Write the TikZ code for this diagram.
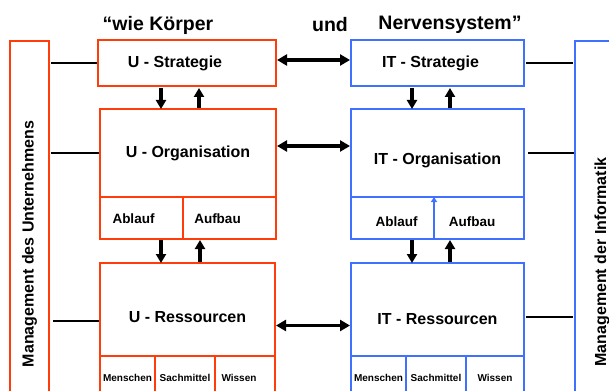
\documentclass[tikz,border=0pt]{standalone}
\usepackage{fontspec}
\setmainfont{Liberation Sans}
\usetikzlibrary{arrows.meta}
\definecolor{uorange}{RGB}{255,61,10}
\definecolor{itblue}{RGB}{64,112,255}
\begin{document}
\begin{tikzpicture}[x=1pt,y=-1pt,font=\bfseries,
  box/.style={draw,line width=2pt,inner sep=0pt,outer sep=0pt},
  ubox/.style={box,draw=uorange},
  itbox/.style={box,draw=itblue},
  big/.style={font=\fontsize{16}{18}\selectfont\bfseries},
  mid/.style={font=\fontsize{13.5}{15}\selectfont\bfseries},
  small/.style={font=\fontsize{10}{12}\selectfont\bfseries},
  ttl/.style={font=\fontsize{19.5}{22}\selectfont\bfseries},
  mgm/.style={font=\fontsize{16}{18}\selectfont\bfseries},
  varrow/.style={line width=3.5pt,-{Triangle[length=9pt,width=10pt]}},
  harrow/.style={line width=3.5pt,{Triangle[length=10pt,width=11pt]}-{Triangle[length=10pt,width=11pt]}},
  conn/.style={line width=1.5pt}]
\useasboundingbox (0,0) rectangle (609,390);
\clip (0,0) rectangle (609,390);
% titles
\node[ttl] (t1) at (158,25) {“wie Körper};
\node[ttl] (t2) at (330,25) {und};
\node[ttl] (t3) at (450,25) {Nervensystem”};
% management boxes
\node[ubox,mgm,rotate=90,minimum width=406pt,minimum height=39pt] (umg) at (29.5,244) {Management des Unternehmens};
\node[itbox,mgm,rotate=90,minimum width=442pt,minimum height=54pt] (itmg) at (602,262) {Management der Informatik};
% U side
\node[ubox,minimum width=178pt,minimum height=46pt,label={[big,xshift=-12pt]center:U - Strategie}] (usstrat) at (187,63) {};
\node[ubox,minimum width=176pt,minimum height=88pt,label={[big]center:U - Organisation}] (usorg) at (188,153) {};
\node[ubox,minimum width=83pt,minimum height=42pt,label={[mid,xshift=-8pt,yshift=-1pt]center:Ablauf}] (usab) at (141.5,218) {};
\node[ubox,minimum width=93pt,minimum height=42pt,label={[mid,xshift=-12pt,yshift=-1pt]center:Aufbau}] (usauf) at (229.5,218) {};
\node[ubox,minimum width=175pt,minimum height=93pt,label={[big,yshift=-7.5pt]center:U - Ressourcen}] (usres) at (187.5,309.5) {};
\node[ubox,small,minimum width=55pt,minimum height=44pt] (usmen) at (127.5,378) {Menschen};
\node[ubox,small,minimum width=60pt,minimum height=44pt] (ussach) at (185,378) {Sachmittel};
\node[ubox,small,minimum width=60pt,minimum height=44pt,label={[small,xshift=-6pt]center:Wissen}] (uswis) at (245,378) {};
% IT side
\node[itbox,minimum width=173pt,minimum height=46pt,label={[big,xshift=-7pt]center:IT - Strategie}] (itstrat) at (437.5,63) {};
\node[itbox,minimum width=173pt,minimum height=88pt,label={[big,yshift=-7pt]center:IT - Organisation}] (itorg) at (437.5,153) {};
\node[itbox,minimum width=83pt,minimum height=42pt,label={[mid,xshift=4pt,yshift=-4pt]center:Ablauf}] (itab) at (392.5,218) {};
\node[itbox,minimum width=90pt,minimum height=42pt,label={[mid,xshift=-7pt,yshift=-4pt]center:Aufbau}] (itauf) at (479,218) {};
\node[itbox,minimum width=173pt,minimum height=93pt,label={[big,yshift=-9.5pt]center:IT - Ressourcen}] (itres) at (437.5,309.5) {};
\node[itbox,small,minimum width=55pt,minimum height=44pt] (itmen) at (378.5,378) {Menschen};
\node[itbox,small,minimum width=60pt,minimum height=44pt] (itsach) at (436,378) {Sachmittel};
\node[itbox,small,minimum width=58pt,minimum height=44pt] (itwis) at (495,378) {Wissen};
% blue arrow in IT-Organisation
\draw[itblue,line width=2pt,-{Triangle[length=5pt,width=6pt]}] (itab.south east) -- (itab.north east);
% vertical arrows U
\draw[varrow,shorten <=2pt] ([xshift=-26pt]usstrat.south) -- ([xshift=-27pt]usorg.north);
\draw[varrow,shorten <=1pt,shorten >=2pt] ([xshift=11pt]usorg.north) -- ([xshift=12pt]usstrat.south);
\draw[varrow,shorten <=1pt] ([xshift=19.5pt]usab.south) -- ([xshift=-26.5pt]usres.north);
\draw[varrow,shorten <=1pt,shorten >=1pt] ([xshift=12.5pt]usres.north) -- ([xshift=-29.5pt]usauf.south);
% vertical arrows IT
\draw[varrow,shorten <=2pt] ([xshift=-25.5pt]itstrat.south) -- ([xshift=-25.5pt]itorg.north);
\draw[varrow,shorten <=1pt,shorten >=2pt] ([xshift=12.5pt]itorg.north) -- ([xshift=12.5pt]itstrat.south);
\draw[varrow,shorten <=1pt] ([xshift=19.5pt]itab.south) -- ([xshift=-25.5pt]itres.north);
\draw[varrow,shorten <=1pt,shorten >=1pt] ([xshift=12.5pt]itres.north) -- ([xshift=-29pt]itauf.south);
% horizontal double arrows
\draw[harrow,shorten <=1pt,shorten >=1pt] ([yshift=3pt]usstrat.east) -- ([yshift=3pt]itstrat.west);
\draw[harrow,shorten <=1pt,shorten >=1pt] ([yshift=7pt]usorg.east) -- ([yshift=7pt]itorg.west);
\draw[harrow,shorten <=1pt,shorten >=1pt] ([yshift=-16pt]usres.east) -- ([yshift=-16pt]itres.west);
% connectors to management
\coordinate (ur) at ([yshift=-11.5pt]usres.west);
\coordinate (ir) at ([yshift=-7.5pt]itres.east);
\draw[conn,shorten <=2pt,shorten >=1pt] (umg.south |- usstrat.west) -- (usstrat.west);
\draw[conn,shorten <=2pt,shorten >=1pt] (umg.south |- usorg.west) -- (usorg.west);
\draw[conn,shorten <=4pt,shorten >=1pt] (umg.south |- ur) -- (ur);
\draw[conn,shorten <=2pt,shorten >=2pt] (itstrat.east) -- (itmg.north |- itstrat.east);
\draw[conn,shorten <=4pt,shorten >=1pt] (itorg.east) -- (itmg.north |- itorg.east);
\draw[conn,shorten <=2pt,shorten >=2pt] (ir) -- (itmg.north |- ir);
\end{tikzpicture}
\end{document}
